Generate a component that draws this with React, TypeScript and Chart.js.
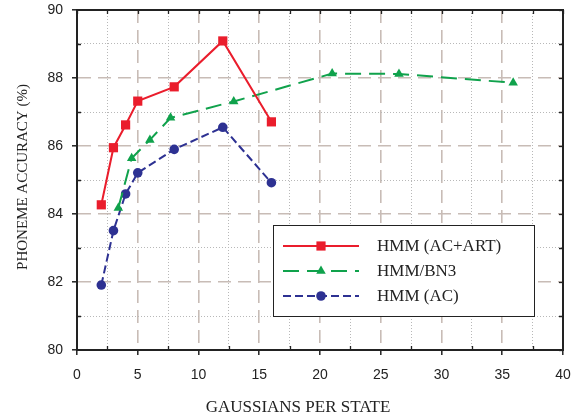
import React, { useEffect, useRef } from 'react';
import { Chart, registerables } from 'chart.js';

Chart.register(...registerables);

// ---- data ----
const seriesNames = ['HMM (AC+ART)', 'HMM/BN3', 'HMM (AC)'];
const artX = [2, 3, 4, 5, 8, 12, 16];
const artY = [84.27, 85.95, 86.62, 87.32, 87.74, 89.09, 86.71];
const bn3X = [3.4, 4.5, 6, 7.7, 12.9, 21, 26.5, 35.9];
const bn3Y = [84.18, 85.64, 86.18, 86.83, 87.31, 88.13, 88.12, 87.86];
const acX = [2, 3, 4, 5, 8, 12, 16];
const acY = [81.91, 83.51, 84.59, 85.21, 85.9, 86.55, 84.92];

const xAxisTitle = 'GAUSSIANS PER STATE';
const yAxisTitle = 'PHONEME ACCURACY (%)';

const SERIF = "'Liberation Serif', 'Times New Roman', serif";
const SANS = "'Liberation Sans', Arial, sans-serif";

const isMajorX = (v: number) => Math.abs(v % 5) < 1e-6;
const isMajorY = (v: number) => Math.abs(v % 2) < 1e-6;

const toPoints = (xs: number[], ys: number[]) => xs.map((x, i) => ({ x, y: ys[i] }));

const decorPlugin = {
  id: 'decor',
  afterDraw(chart: any) {
    const { ctx, chartArea: a, scales } = chart;
    const x = scales.x;
    const y = scales.y;
    ctx.save();
    // frame top & right
    ctx.strokeStyle = '#222';
    ctx.lineWidth = 2;
    ctx.setLineDash([]);
    ctx.beginPath();
    ctx.moveTo(a.left - 1, a.top);
    ctx.lineTo(a.right, a.top);
    ctx.lineTo(a.right, a.bottom + 1);
    ctx.stroke();

    // inward ticks
    ctx.lineWidth = 1.3;
    const tl = 4;
    x.ticks.forEach((t: any) => {
      const px = Math.round(x.getPixelForValue(t.value)) + 0.5;
      ctx.beginPath();
      if (!isMajorX(t.value)) {
        ctx.moveTo(px, a.bottom);
        ctx.lineTo(px, a.bottom - tl);
      }
      ctx.moveTo(px, a.top);
      ctx.lineTo(px, a.top + tl);
      ctx.stroke();
    });
    y.ticks.forEach((t: any) => {
      const py = Math.round(y.getPixelForValue(t.value)) + 0.5;
      ctx.beginPath();
      if (!isMajorY(t.value)) {
        ctx.moveTo(a.left, py);
        ctx.lineTo(a.left + tl, py);
      }
      ctx.moveTo(a.right, py);
      ctx.lineTo(a.right - tl, py);
      ctx.stroke();
    });

    // axis titles
    ctx.fillStyle = '#222';
    ctx.font = `17px ${SERIF}`;
    ctx.textAlign = 'center';
    ctx.textBaseline = 'alphabetic';
    ctx.fillText(xAxisTitle, (a.left + a.right) / 2 - 22, 412);
    ctx.save();
    ctx.translate(27, (a.top + a.bottom) / 2 - 3);
    ctx.rotate(-Math.PI / 2);
    ctx.font = `15px ${SERIF}`;
    ctx.fillText(yAxisTitle, 0, 0);
    ctx.restore();

    // legend box
    const lx = a.left + 196;
    const ly = 225;
    const lw = 261;
    const lh = 91;
    ctx.fillStyle = '#fff';
    ctx.fillRect(lx, ly, lw, lh);
    ctx.strokeStyle = '#222';
    ctx.lineWidth = 1;
    ctx.strokeRect(lx + 0.5, ly + 0.5, lw, lh);
    chart.data.datasets.forEach((ds: any, i: number) => {
      const ry = ly + 21 + i * 25;
      const x1 = lx + 10;
      const x2 = lx + 86;
      const mx = (x1 + x2) / 2;
      ctx.strokeStyle = ds.borderColor;
      ctx.lineWidth = ds.borderWidth;
      ctx.setLineDash(ds.borderDash || []);
      ctx.beginPath();
      ctx.moveTo(x1, ry);
      ctx.lineTo(x2, ry);
      ctx.stroke();
      ctx.setLineDash([]);
      ctx.fillStyle = ds.pointBackgroundColor;
      const r = ds.pointRadius;
      ctx.beginPath();
      if (ds.pointStyle === 'rect') {
        const s = Math.SQRT1_2 * r;
        ctx.rect(mx - s, ry - s, 2 * s, 2 * s);
      } else if (ds.pointStyle === 'triangle') {
        ctx.moveTo(mx, ry - r);
        ctx.lineTo(mx + Math.sin((2 * Math.PI) / 3) * r, ry + r / 2);
        ctx.lineTo(mx - Math.sin((2 * Math.PI) / 3) * r, ry + r / 2);
        ctx.closePath();
      } else {
        ctx.arc(mx, ry, r, 0, Math.PI * 2);
      }
      ctx.fill();
      ctx.fillStyle = '#222';
      ctx.font = `17px ${SERIF}`;
      ctx.textAlign = 'left';
      ctx.textBaseline = 'middle';
      ctx.fillText(ds.label, lx + 104, ry + 1);
    });
    ctx.restore();
  },
};

export default function App() {
  const ref = useRef<HTMLCanvasElement | null>(null);

  useEffect(() => {
    document.body.style.margin = '0';
    const canvas = ref.current;
    if (!canvas) return;
    const red = '#ea1d2c';
    const green = '#10a24c';
    const blue = '#2d3192';
    const chart = new Chart(canvas, {
      type: 'line',
      data: {
        datasets: [
          {
            label: seriesNames[0],
            data: toPoints(artX, artY),
            borderColor: red,
            backgroundColor: red,
            pointBackgroundColor: red,
            pointBorderColor: red,
            borderWidth: 2,
            borderDash: [],
            pointStyle: 'rect',
            pointRadius: 6.5,
            pointBorderWidth: 0,
          },
          {
            label: seriesNames[1],
            data: toPoints(bn3X, bn3Y),
            borderColor: green,
            backgroundColor: green,
            pointBackgroundColor: green,
            pointBorderColor: green,
            borderWidth: 2,
            borderDash: [16, 8],
            pointStyle: 'triangle',
            pointRadius: 5.5,
            pointBorderWidth: 0,
          },
          {
            label: seriesNames[2],
            data: toPoints(acX, acY),
            borderColor: blue,
            backgroundColor: blue,
            pointBackgroundColor: blue,
            pointBorderColor: blue,
            borderWidth: 2,
            borderDash: [8, 4],
            pointStyle: 'circle',
            pointRadius: 4.8,
            pointBorderWidth: 0,
          },
        ] as any,
      },
      options: {
        animation: false,
        responsive: false,
        events: [],
        layout: { padding: { top: 10, right: 17, left: 0, bottom: 0 } },
        plugins: {
          legend: { display: false },
          tooltip: { enabled: false },
          title: { display: false },
        },
        elements: { line: { tension: 0, fill: false } },
        scales: {
          x: {
            type: 'linear',
            min: 0,
            max: 40,
            afterFit: (s: any) => {
              s.height = 66;
              s.paddingLeft = 0;
              s.paddingRight = 0;
            },
            ticks: {
              stepSize: 2.5,
              autoSkip: false,
              maxRotation: 0,
              padding: 12,
              color: '#222',
              font: { family: SANS, size: 14 },
              callback: (v: any) => (isMajorX(Number(v)) ? String(v) : ''),
            },
            grid: {
              color: (c: any) => (c.tick && isMajorX(c.tick.value) ? '#c8bcb6' : '#b8b8b8'),
              lineWidth: (c: any) => (c.tick && isMajorX(c.tick.value) ? 1.6 : 1),
              tickLength: 5,
              tickWidth: 1.5,
              tickColor: (c: any) => (c.tick && isMajorX(c.tick.value) ? '#222' : 'rgba(0,0,0,0)'),
            },
            border: {
              display: true,
              color: '#222',
              width: 2,
              dash: (c: any) => (c.tick ? (isMajorX(c.tick.value) ? [13, 7] : [1, 2]) : []),
            },
          },
          y: {
            type: 'linear',
            min: 80,
            max: 90,
            afterFit: (s: any) => {
              s.width = 77;
              s.paddingTop = 0;
              s.paddingBottom = 0;
            },
            ticks: {
              stepSize: 1,
              autoSkip: false,
              padding: 9,
              color: '#222',
              font: { family: SANS, size: 14 },
              callback: (v: any) => (isMajorY(Number(v)) ? String(v) : ''),
            },
            grid: {
              color: (c: any) => (c.tick && isMajorY(c.tick.value) ? '#c8bcb6' : '#b8b8b8'),
              lineWidth: (c: any) => (c.tick && isMajorY(c.tick.value) ? 1.6 : 1),
              tickLength: 5,
              tickWidth: 1.5,
              tickColor: (c: any) => (c.tick && isMajorY(c.tick.value) ? '#222' : 'rgba(0,0,0,0)'),
            },
            border: {
              display: true,
              color: '#222',
              width: 2,
              dash: (c: any) => (c.tick ? (isMajorY(c.tick.value) ? [13, 7] : [1, 2]) : []),
            },
          },
        },
      } as any,
      plugins: [decorPlugin],
    });
    return () => chart.destroy();
  }, []);

  return <canvas ref={ref} width={580} height={416} style={{ display: 'block', width: 580, height: 416 }} />;
}
